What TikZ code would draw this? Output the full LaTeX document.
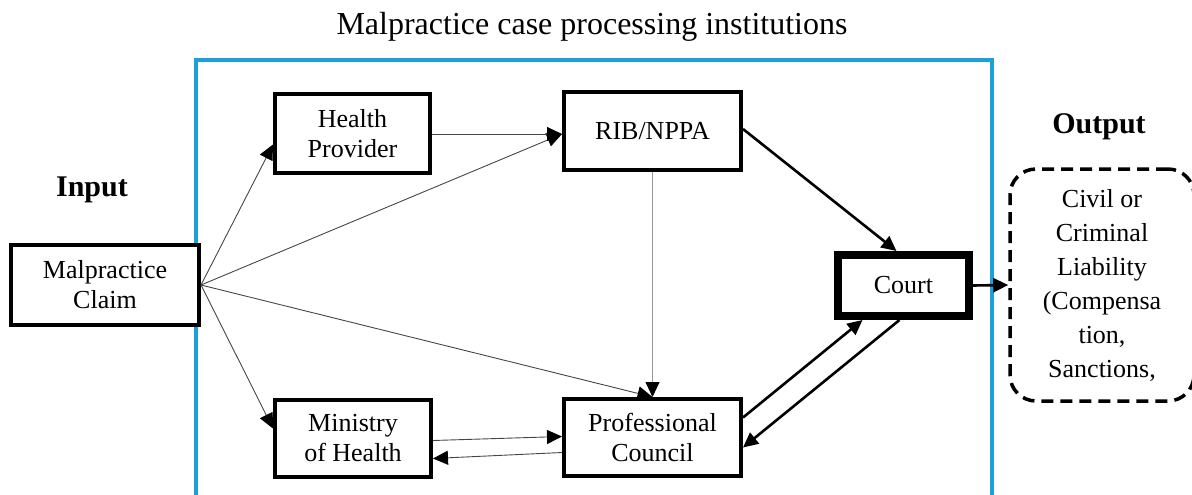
\documentclass[tikz,border=0pt]{standalone}
\usepackage{fontspec}
\setmainfont{Liberation Serif}
\usetikzlibrary{arrows.meta,calc}
\definecolor{frameblue}{RGB}{28,160,218}
\definecolor{thingray}{RGB}{70,70,70}
\definecolor{lightgray2}{RGB}{150,150,150}
\begin{document}
\begin{tikzpicture}[x=1pt,y=-1pt,
  box/.style={draw=black,line width=4pt,fill=white,align=center,inner sep=0pt,
    font=\fontsize{26}{30}\selectfont},
  thinarrow/.style={draw=thingray,line width=0.9pt,-{Triangle[length=15pt,width=14pt,color=black]}},
  thickarrow/.style={draw=black,line width=2.6pt,-{Triangle[length=15pt,width=14pt]}},
  heading/.style={font=\fontsize{30}{34}\selectfont\bfseries}
]
\useasboundingbox (0,0) rectangle (1192,495);
% frame
\draw[frameblue,line width=4pt] (196,510) -- (196,60) -- (992,60) -- (992,510);
% title and headings
\node[font=\fontsize{32}{36}\selectfont] (title) at (592,27) {Malpractice case processing institutions};
\node[heading] (input) at (92,190) {Input};
\node[heading] (output) at (1099,127) {Output};
% boxes
\node[box,minimum width=188pt,minimum height=80pt] (claim) at (105,285) {Malpractice\\Claim};
\node[box,minimum width=155pt,minimum height=79pt] (hp) at (352.5,133.5) {Health\\Provider};
\node[box,minimum width=177pt,minimum height=78pt] (rib) at (652.5,131) {RIB/NPPA};
\node[box,minimum width=156pt,minimum height=77pt] (min) at (353,438.5) {Ministry\\of Health};
\node[box,minimum width=177pt,minimum height=77pt] (pc) at (652.5,437.5) {Professional\\Council};
\node[box,line width=8pt,minimum width=131pt,minimum height=61pt] (court) at (903.5,285.5) {Court};
\node[draw=black,line width=3.5pt,dash pattern=on 12pt off 7pt,rounded corners=26pt,
  minimum width=184pt,minimum height=232pt,align=center,inner sep=0pt,
  font=\fontsize{26}{34}\selectfont] (out) at (1102,285)
  {Civil or\\Criminal\\Liability\\(Compensa\\tion,\\Sanctions,};
% connectors
\draw[thinarrow] (claim.east) -- ([yshift=-11pt]hp.west);
\draw[thinarrow] (claim.east) -- ([yshift=10pt]min.west);
\draw[thinarrow] (claim.east) -- ([yshift=-3pt]rib.west);
\draw[thinarrow] (claim.east) -- (pc.north);
\draw[thinarrow] ([yshift=-0.5pt]hp.east) -- ([yshift=-3pt]rib.west);
\draw[thinarrow,draw=lightgray2] (rib.south) -- (pc.north);
\draw[thinarrow] ([yshift=-2pt]min.east) -- ([yshift=1pt]pc.west);
\draw[thinarrow] ([yshift=-15pt]pc.west) -- ([yshift=-20pt]min.east);
\draw[thickarrow] ([yshift=2pt]rib.east) -- ([xshift=-7pt]court.north);
\draw[thickarrow] ([yshift=20pt]pc.east) -- ([xshift=-41pt]court.south);
\draw[thickarrow] ([xshift=-4pt]court.south) -- ([yshift=-10pt]pc.east);
\draw[thickarrow] (court.east) -- (out.west);
\end{tikzpicture}
\end{document}
